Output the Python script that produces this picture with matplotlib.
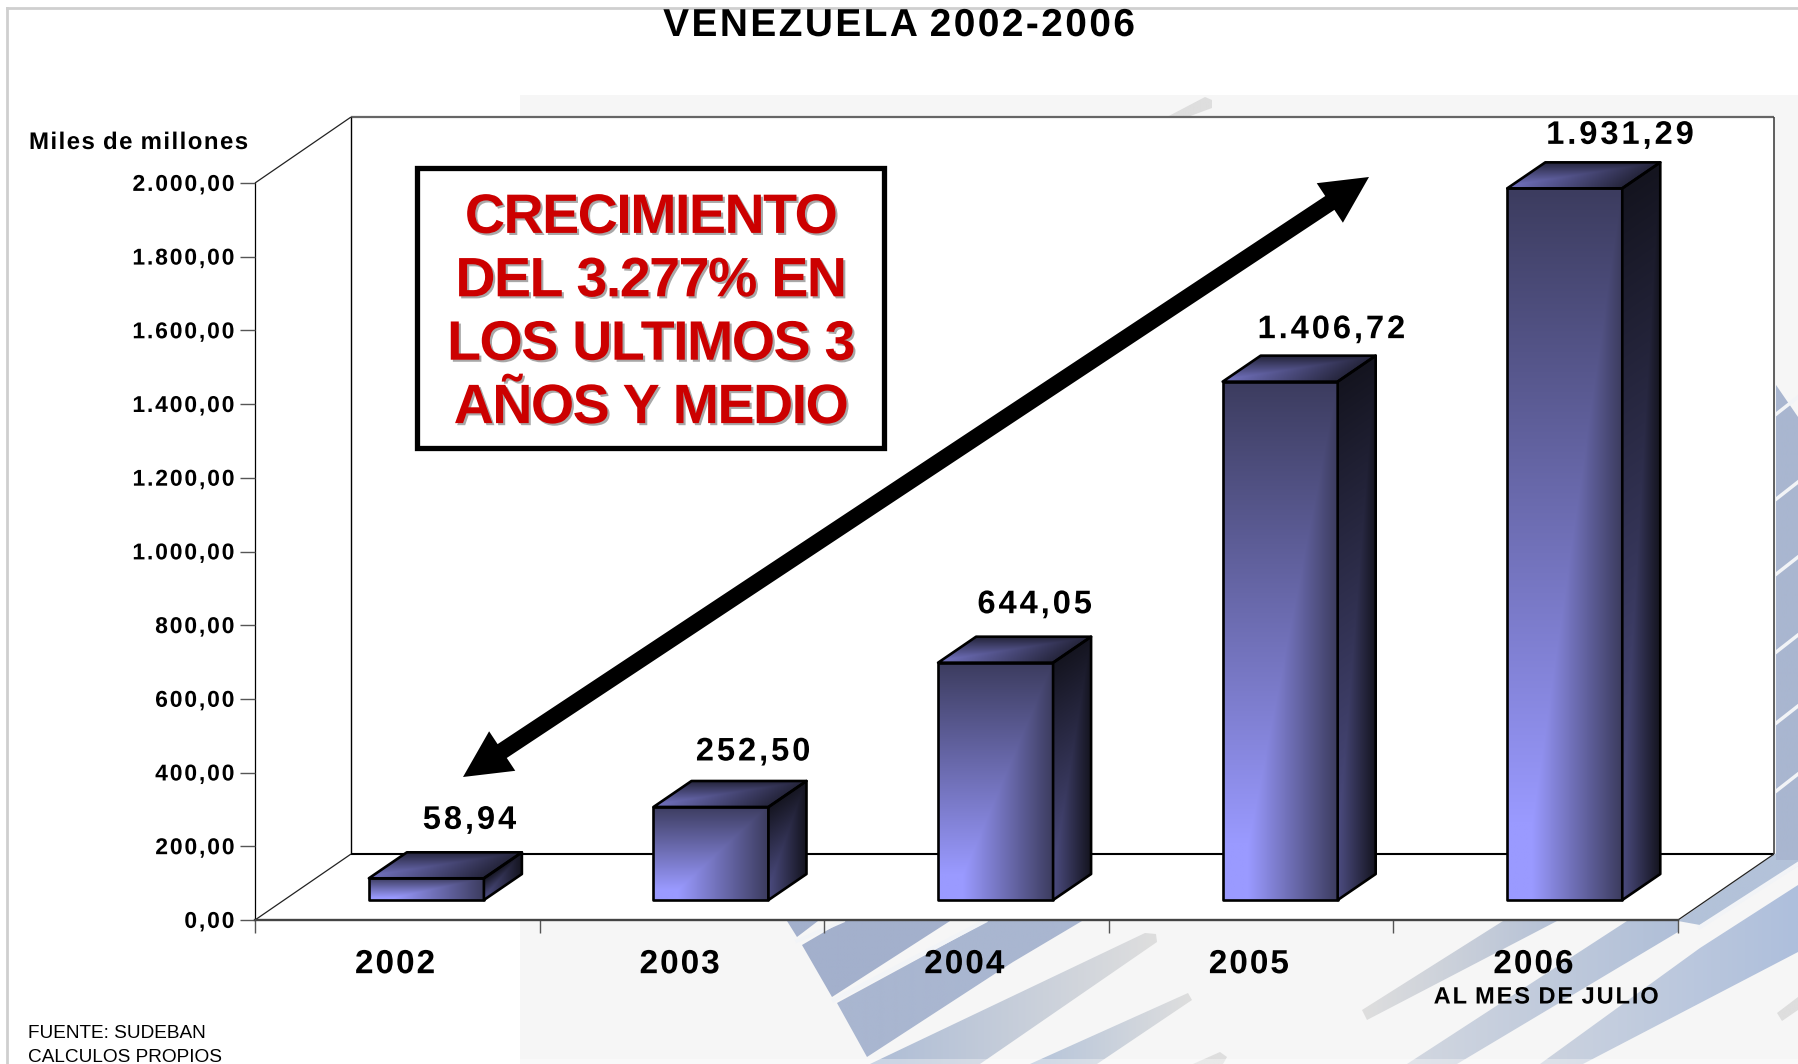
import numpy as np
import matplotlib
matplotlib.use("Agg")
import matplotlib.pyplot as plt
from matplotlib.patches import Polygon, Rectangle
from matplotlib.path import Path
from matplotlib.patheffects import AbstractPathEffect
from matplotlib.transforms import Affine2D

plt.rcParams['font.family'] = ['Liberation Sans', 'DejaVu Sans']

# Datos
years = ['2002', '2003', '2004', '2005', '2006']
values = [58.94, 252.50, 644.05, 1406.72, 1931.29]
value_labels = ['58,94', '252,50', '644,05', '1.406,72', '1.931,29']
y_ticks = [0, 200, 400, 600, 800, 1000, 1200, 1400, 1600, 1800, 2000]
y_tick_labels = ['0,00', '200,00', '400,00', '600,00', '800,00', '1.000,00',
                 '1.200,00', '1.400,00', '1.600,00', '1.800,00', '2.000,00']
box_lines = 'CRECIMIENTO\nDEL 3.277% EN\nLOS ULTIMOS 3\nAÑOS Y MEDIO'

W, H = 1798, 1064

# Profundidad de la perspectiva, en unidades de los ejes
DX = 96 / 284.6
DY = 179.0
BAR_W = 0.404
BAR_Z0 = 0.303
BAR_DX = 38 / 284.6
BAR_DV = 70.5
label_dx = [5, 4, 1, 13, 17]
label_dy = [32, 29, 32, 26, 27]


class Track(AbstractPathEffect):
    """Espaciado entre letras: desplaza cada glifo del texto ya convertido en trazado."""

    def __init__(self, em, align='center', color=None, offset=(0, 0)):
        super().__init__(offset)
        self.em = em
        self.align = align
        self.color = None if color is None else matplotlib.colors.to_rgb(color)

    def draw_path(self, renderer, gc, tpath, affine, rgbFace=None):
        verts = tpath.vertices.copy()
        codes = tpath.codes
        starts = list(np.where(codes == Path.MOVETO)[0]) + [len(codes)]
        contours = []
        for a, b in zip(starts[:-1], starts[1:]):
            keep = codes[a:b] != Path.CLOSEPOLY
            xs = verts[a:b][keep, 0]
            contours.append((xs.min(), xs.max(), a, b))
        contours.sort()
        step = self.em * 100
        k = -1
        right = -np.inf
        for xmin, xmax, a, b in contours:
            if xmin >= right - 0.5:
                k += 1
            right = max(right, xmax)
            verts[a:b, 0] += k * step
        shift = {'left': 0, 'center': -k * step / 2, 'right': -k * step}[self.align]
        new_path = Path(verts, codes)
        tr = Affine2D().translate(shift, 0) + affine + self._offset_transform(renderer)
        renderer.draw_path(gc, new_path, tr, self.color if self.color is not None else rgbFace)


def proj(x, v, z=0.0):
    return (x + z * DX, v + z * DY)


fig = plt.figure(figsize=(W / 100, H / 100), dpi=100, facecolor='white')

# Fondo decorativo, en pixeles
bg = fig.add_axes([0, 0, 1, 1], zorder=0)
bg.add_patch(Rectangle((520, 95), W - 520, 969, fc='#f6f6f6', ec='none'))

blue_d = '#a3b0cc'
blue_m = '#a9b6d0'
grey = '#dedede'
# (puntos, color a la izquierda, color a la derecha)
stripes = [
    ([(787, 921), (818, 921), (797, 937)], blue_d, blue_d),
    ([(802, 945), (843, 921), (950, 921), (832, 997)], blue_d, blue_d),
    ([(837, 1003), (988, 921), (1082, 921), (1013, 962), (867, 1057)], blue_m, blue_m),
    ([(870, 1064), (1145, 933), (1156, 934), (1157, 942), (980, 1064)], '#aebdd6', grey),
    ([(1030, 1064), (1188, 993), (1192, 1000), (1097, 1064)], '#b5c4da', grey),
    ([(1193, 1064), (1220, 1052), (1227, 1057), (1223, 1064)], grey, grey),
    ([(1362, 1010), (1503, 921), (1557, 921), (1367, 1020)], grey, '#b5c1d6'),
    ([(1407, 1064), (1627, 921), (1678, 921), (1678, 932), (1457, 1064)], '#d2d7e0', '#b0bfd8'),
    ([(1540, 1064), (1700, 948), (1798, 885), (1798, 952), (1583, 1064)], '#ccd3df', '#aebfdc'),
    ([(1678, 921), (1775, 854), (1798, 840), (1798, 866), (1700, 925)], '#b3c2d9', '#b3c2d9'),
    ([(1205, 97), (1212, 100), (1212, 108), (1185, 118), (1165, 118)], grey, grey),
    ([(1776, 385), (1798, 417), (1798, 860), (1776, 860)], blue_m, blue_m),
    ([(1777, 1013), (1798, 997), (1798, 1010), (1782, 1021)], grey, grey),
]
for pts, c0, c1 in stripes:
    pts = np.array(pts, dtype=float)
    x0, x1 = pts[:, 0].min(), pts[:, 0].max()
    y0, y1 = pts[:, 1].min(), pts[:, 1].max()
    t = np.linspace(0, 1, 64)[None, :, None]
    rgb = np.array(matplotlib.colors.to_rgb(c0)) * (1 - t) + np.array(matplotlib.colors.to_rgb(c1)) * t
    im = bg.imshow(rgb, extent=[x0, x1, y1, y0], aspect='auto', interpolation='bilinear', zorder=1)
    clip = Polygon(pts, closed=True, fc='none', ec='none')
    bg.add_patch(clip)
    im.set_clip_path(clip)

# Rendijas claras del fondo
slit = '#f2f4f7'
for y0 in [415, 500, 575, 653, 724, 792]:
    bg.plot([1775, 1798], [y0, y0 - 18], color=slit, lw=2.5, zorder=2)
bg.plot([1700, 1798], [927, 864], color=slit, lw=3, zorder=2)
bg.plot([797, 843], [941, 921], color=slit, lw=2.5, zorder=2)
bg.plot([834, 985], [1000, 921], color=slit, lw=3, zorder=2)
bg.add_patch(Rectangle((520, 1059), W - 520, 5, fc='white', alpha=0.35, ec='none', zorder=3))
bg.plot([7, W], [8, 8], color='#cfcfcf', lw=2, zorder=3)
bg.plot([7, 7], [8, H], color='#cfcfcf', lw=2, zorder=3)
bg.set_xlim(0, W)
bg.set_ylim(H, 0)
bg.axis('off')

# Ejes principales: plano frontal del grafico
ax = fig.add_axes([255 / W, 1 - 920 / H, (1678 - 255) / W, (920 - 183) / H], zorder=1)
ax.patch.set_alpha(0)

# Paredes y piso
ax.add_patch(Polygon([proj(0, 0, 1), proj(5, 0, 1), proj(5, 2000, 1), proj(0, 2000, 1)],
                     fc='white', ec='none', clip_on=False, zorder=0.5))
ax.add_patch(Polygon([proj(0, 0, 0), proj(5, 0, 0), proj(5, 0, 1), proj(0, 0, 1)],
                     fc='white', ec='none', clip_on=False, zorder=0.5))
ax.add_patch(Polygon([proj(0, 0, 0), proj(0, 2000, 0), proj(0, 2000, 1), proj(0, 0, 1)],
                     fc='white', ec='none', clip_on=False, zorder=0.5))


def seg(a, b, **kw):
    ax.plot([a[0], b[0]], [a[1], b[1]], clip_on=False, zorder=1, solid_capstyle='butt', **kw)


seg(proj(0, 0, 1), proj(5, 0, 1), color='black', lw=1.5)
seg(proj(0, 2000, 1), proj(5, 2000, 1), color='#666666', lw=1.6)
seg(proj(0, 0, 1), proj(0, 2000, 1), color='black', lw=1)
seg(proj(5, 0, 1), proj(5, 2000, 1), color='#444444', lw=1.2)
seg(proj(0, 2000, 0), proj(0, 2000, 1), color='#222222', lw=0.9)
seg(proj(0, 0, 0), proj(0, 0, 1), color='#222222', lw=0.9)
seg(proj(5, 0, 0), proj(5, 0, 1), color='#222222', lw=0.9)


def hex_rgb(c):
    return np.array(matplotlib.colors.to_rgb(c))


def face(p0, e1, e2, c0, c1, fade, z):
    """Cara con degradado: claro abajo a la izquierda, oscuro arriba y a la derecha."""
    p0, e1, e2 = np.array(p0), np.array(e1), np.array(e2)
    corners = np.array([p0, p0 + e1, p0 + e1 + e2, p0 + e2])
    xs = np.linspace(corners[:, 0].min(), corners[:, 0].max(), 160)
    ys = np.linspace(corners[:, 1].min(), corners[:, 1].max(), 160)
    gx, gy = np.meshgrid(xs, ys)
    inv = np.linalg.inv(np.column_stack([e1, e2]))
    u = inv[0, 0] * (gx - p0[0]) + inv[0, 1] * (gy - p0[1])
    v = inv[1, 0] * (gx - p0[0]) + inv[1, 1] * (gy - p0[1])
    t = np.clip(np.minimum((1 - v) * 1.12, (1 - u) / fade), 0, 1)[..., None]
    rgb = hex_rgb(c0) + (hex_rgb(c1) - hex_rgb(c0)) * t
    im = ax.imshow(rgb, extent=[xs[0], xs[-1], ys[0], ys[-1]], origin='lower',
                   aspect='auto', interpolation='bilinear', zorder=z)
    poly = Polygon(corners, closed=True, fc='none', ec='black', lw=1.9,
                   joinstyle='round', clip_on=False, zorder=z + 0.1)
    ax.add_patch(poly)
    im.set_clip_box(fig.bbox)
    im.set_clip_path(poly)


for i, (val, lab) in enumerate(zip(values, value_labels)):
    x0 = i + 0.5 - BAR_W / 2
    front = proj(x0, 0, BAR_Z0)
    depth = (BAR_DX, BAR_DV)
    face(front, (BAR_W, 0), (0, val), '#3c3c5f', '#9a9aff', 0.78, 2)
    face((front[0] + BAR_W, front[1]), depth, (0, val), '#14141f', '#4c4c80', 1.0, 2.2)
    face((front[0], front[1] + val), (BAR_W, 0), depth, '#24243a', '#7070bc', 1.0, 2.2)
    ax.annotate(lab, xy=(front[0] + BAR_W / 2 + depth[0], front[1] + val + depth[1]),
                xytext=(label_dx[i], label_dy[i]), textcoords='offset pixels', ha='center', va='center',
                fontsize=23.5, fontweight='bold', color='black', annotation_clip=False, zorder=4,
                path_effects=[Track(0.09)])

ax.set_xlim(0, 5)
ax.set_ylim(0, 2000)
ax.set_yticks(y_ticks, y_tick_labels, fontsize=16.5, fontweight='bold')
ax.set_xticks(np.arange(6), [''] * 6)
ax.set_xticks(np.arange(5) + 0.5, years, minor=True, fontsize=24, fontweight='bold')
ax.tick_params(axis='y', length=10.5, width=1, color='#555555', pad=4.2)
ax.tick_params(axis='x', which='major', length=9.5, width=1, color='#555555')
ax.tick_params(axis='x', which='minor', length=0, pad=21)
for lbl in ax.get_yticklabels():
    lbl.set_path_effects([Track(0.08, align='right', offset=(0, 0.8))])
for lbl in ax.get_xticklabels(minor=True):
    lbl.set_path_effects([Track(0.06, offset=(-1.5, 0))])
ax.spines['top'].set_visible(False)
ax.spines['right'].set_visible(False)
ax.spines['left'].set_linewidth(0.9)
ax.spines['bottom'].set_linewidth(1.7)
ax.spines['bottom'].set_color('#444444')
ax.spines['left'].set_zorder(1.5)

# Capa superior: recuadro, flecha y textos sueltos
ov = fig.add_axes([0, 0, 1, 1], zorder=3)
ov.set_xlim(0, W)
ov.set_ylim(H, 0)
ov.axis('off')

ov.text(899, 26, 'VENEZUELA 2002-2006', ha='center', va='center', fontsize=28, fontweight='bold',
        path_effects=[Track(0.062)])
ov.text(29, 142.5, 'Miles de millones', ha='left', va='center', fontsize=17.3, fontweight='bold',
        path_effects=[Track(0.06, align='left')])
ov.text(1546.5, 997, 'AL MES DE JULIO', ha='center', va='center', fontsize=17, fontweight='bold',
        path_effects=[Track(0.08)])
ov.text(28, 1033, 'FUENTE: SUDEBAN', ha='left', va='center', fontsize=13.7)
ov.text(28, 1058, 'CALCULOS PROPIOS', ha='left', va='center', fontsize=13.7)

ov.add_patch(Rectangle((417, 167.5), 467, 280, fc='white', ec='black', lw=3.8, joinstyle='miter'))
ov.text(651, 314, box_lines, ha='center', va='center', multialignment='center',
        fontsize=40, fontweight='bold', color='#cc0000', linespacing=1.285,
        path_effects=[Track(-0.027, color='#a8a8a8', offset=(1.5, -1.5)), Track(-0.027)])

# Flecha doble
tip_a = np.array([463.0, 777.0])
tip_b = np.array([1369.0, 177.0])
d = (tip_b - tip_a) / np.linalg.norm(tip_b - tip_a)
n = np.array([-d[1], d[0]])
head_len, head_w, shaft_w = 47.0, 23.7, 8.3
arrow_pts = [tip_a,
             tip_a + d * head_len + n * head_w,
             tip_a + d * head_len + n * shaft_w,
             tip_b - d * head_len + n * shaft_w,
             tip_b - d * head_len + n * head_w,
             tip_b,
             tip_b - d * head_len - n * head_w,
             tip_b - d * head_len - n * shaft_w,
             tip_a + d * head_len - n * shaft_w,
             tip_a + d * head_len - n * head_w]
ov.add_patch(Polygon(arrow_pts, closed=True, fc='black', ec='none'))

plt.savefig('out.png', dpi=100)
